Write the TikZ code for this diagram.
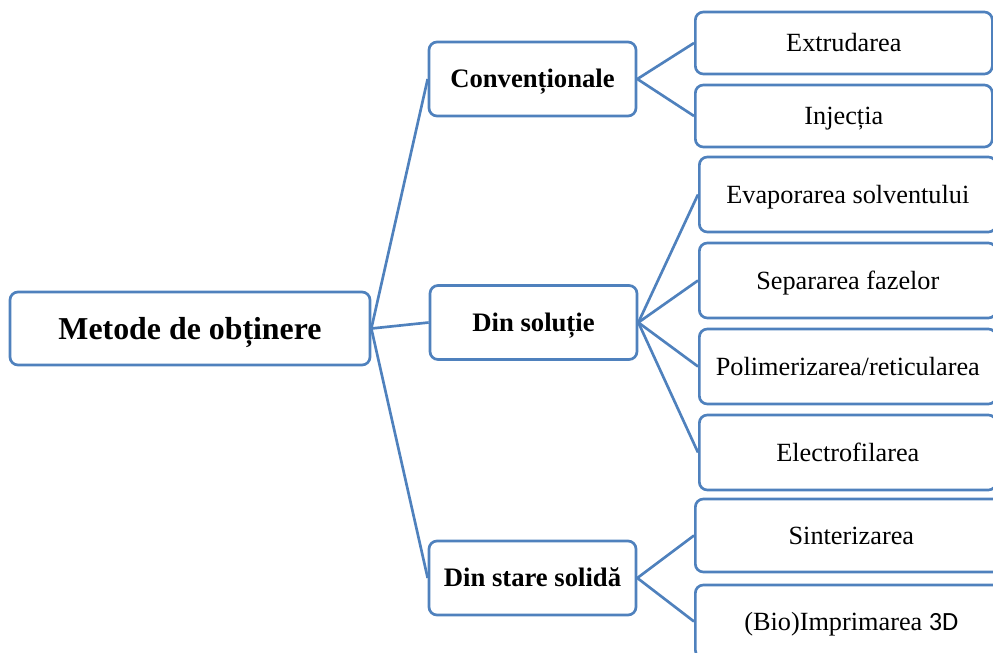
\documentclass[tikz,border=0pt]{standalone}
\usepackage{fontspec}
\setmainfont{Liberation Serif}
\newfontfamily\calfont{Carlito}
\usepackage{tikz}
\usetikzlibrary{positioning}
\definecolor{mapblue}{RGB}{79, 129, 189}

\begin{document}
\begin{tikzpicture}[x=0.75pt, y=-0.75pt]
    % Styles
    \tikzstyle{box} = [rectangle, draw=mapblue, line width=2pt, fill=white,
        rounded corners=6pt, align=center, inner sep=2pt, text depth=0pt]
    \tikzstyle{root} = [box, minimum width=270pt, minimum height=54.75pt,
        text height=15.8pt, font=\fontsize{23.9}{28}\selectfont\bfseries]
    \tikzstyle{group} = [box, minimum width=155.25pt, minimum height=55.5pt,
        text height=13.2pt, font=\fontsize{20}{24}\selectfont\bfseries]
    \tikzstyle{leaf} = [box, minimum width=222.75pt, anchor=west,
        text height=13pt, font=\fontsize{19.7}{24}\selectfont]
    \tikzstyle{line} = [mapblue, line width=2pt]

    \clip (0,0) rectangle (993,653);

    % Nodes
    \node [root] (metode) at (190,328.5) {Metode de obținere};
    \node [group] (conv) at (532.5,79) {Convenționale};
    \node [group] (sol) at (533.5,322.5) {Din soluție};
    \node [group] (solid) at (532.5,578) {Din stare solidă};

    \node [leaf, minimum height=46.5pt] (ext) at (694,43) {Extrudarea};
    \node [leaf, minimum height=46.5pt, below=6.25pt of ext.south west, anchor=north west] (inj) {Injecția};

    \node [leaf, minimum height=56.25pt] (evap) at (698,194.5) {Evaporarea solventului};
    \node [leaf, minimum height=56.25pt, below=6.25pt of evap.south west, anchor=north west] (sep) {Separarea fazelor};
    \node [leaf, minimum height=56.25pt, below=6.25pt of sep.south west, anchor=north west] (pol) {Polimerizarea/reticularea};
    \node [leaf, minimum height=56.25pt, below=6.25pt of pol.south west, anchor=north west] (elec) {Electrofilarea};

    \node [leaf, minimum width=234pt, minimum height=54.75pt] (sint) at (694,535.5) {Sinterizarea};
    \node [leaf, minimum width=234pt, minimum height=54.75pt, below=7.75pt of sint.south west, anchor=north west] (bio) {(Bio)Imprimarea {\calfont 3D}};

    % Lines
    \draw [line] (metode.east) -- (conv.west);
    \draw [line] (metode.east) -- (sol.west);
    \draw [line] (metode.east) -- (solid.west);
    \draw [line] (conv.east) -- (ext.west);
    \draw [line] (conv.east) -- (inj.west);
    \draw [line] (sol.east) -- (evap.west);
    \draw [line] (sol.east) -- (sep.west);
    \draw [line] (sol.east) -- (pol.west);
    \draw [line] (sol.east) -- (elec.west);
    \draw [line] (solid.east) -- (sint.west);
    \draw [line] (solid.east) -- (bio.west);
\end{tikzpicture}
\end{document}
